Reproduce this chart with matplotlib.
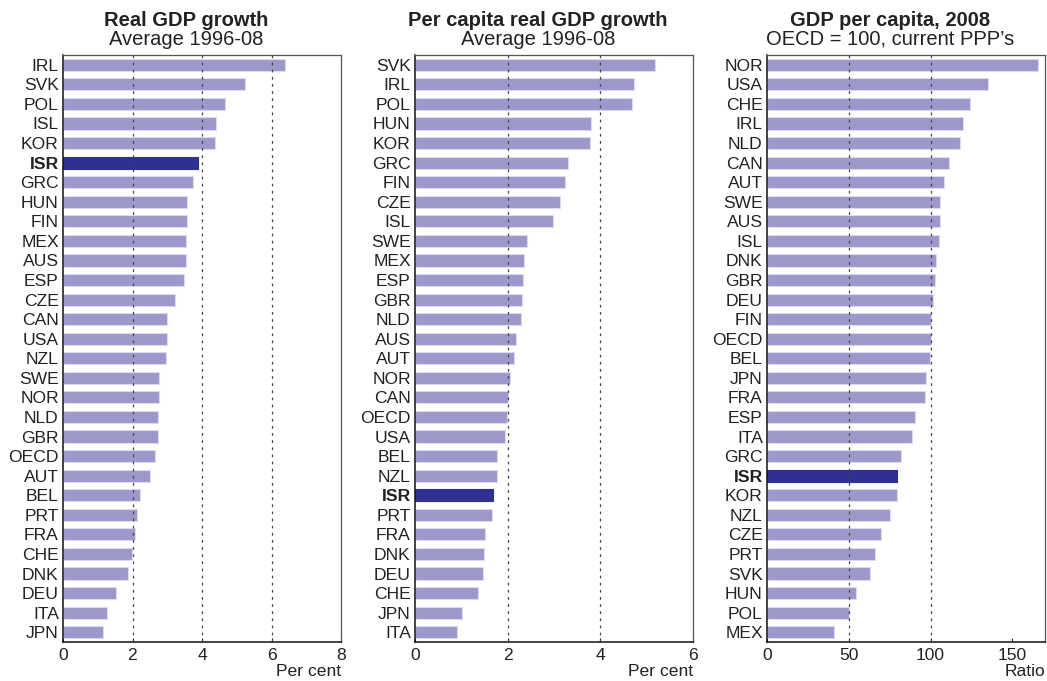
import numpy as np
import matplotlib
matplotlib.use("Agg")
import matplotlib.pyplot as plt

plt.rcParams['font.family'] = ['Liberation Sans', 'DejaVu Sans']

# Real GDP growth, average 1996-08 (per cent)
growth_countries = ["IRL", "SVK", "POL", "ISL", "KOR", "ISR", "GRC", "HUN", "FIN", "MEX",
                    "AUS", "ESP", "CZE", "CAN", "USA", "NZL", "SWE", "NOR", "NLD", "GBR",
                    "OECD", "AUT", "BEL", "PRT", "FRA", "CHE", "DNK", "DEU", "ITA", "JPN"]
growth_values = [6.40, 5.24, 4.65, 4.39, 4.37, 3.88, 3.74, 3.57, 3.57, 3.54,
                 3.54, 3.48, 3.21, 3.00, 2.98, 2.96, 2.76, 2.76, 2.74, 2.74,
                 2.66, 2.50, 2.21, 2.13, 2.08, 1.99, 1.86, 1.52, 1.26, 1.16]

# Per capita real GDP growth, average 1996-08 (per cent)
pc_countries = ["SVK", "IRL", "POL", "HUN", "KOR", "GRC", "FIN", "CZE", "ISL", "SWE",
                "MEX", "ESP", "GBR", "NLD", "AUS", "AUT", "NOR", "CAN", "OECD", "USA",
                "BEL", "NZL", "ISR", "PRT", "FRA", "DNK", "DEU", "CHE", "JPN", "ITA"]
pc_values = [5.17, 4.73, 4.69, 3.79, 3.78, 3.31, 3.24, 3.14, 2.98, 2.42,
             2.36, 2.33, 2.30, 2.28, 2.18, 2.14, 2.06, 2.00, 1.99, 1.94,
             1.78, 1.77, 1.69, 1.67, 1.51, 1.49, 1.46, 1.37, 1.02, 0.91]

# GDP per capita 2008, OECD = 100
level_countries = ["NOR", "USA", "CHE", "IRL", "NLD", "CAN", "AUT", "SWE", "AUS", "ISL",
                   "DNK", "GBR", "DEU", "FIN", "OECD", "BEL", "JPN", "FRA", "ESP", "ITA",
                   "GRC", "ISR", "KOR", "NZL", "CZE", "PRT", "SVK", "HUN", "POL", "MEX"]
level_values = [165.9, 135.3, 124.3, 120.1, 118.2, 111.1, 108.0, 106.0, 106.0, 105.0,
                103.5, 102.5, 101.3, 100.5, 100.0, 99.5, 97.0, 96.6, 90.3, 88.7,
                82.1, 79.7, 79.3, 75.4, 69.9, 66.0, 62.8, 54.6, 50.3, 41.0]

panels = [
    ("Real GDP growth", "Average 1996-08", growth_countries, growth_values, 8, [0, 2, 4, 6, 8], [2, 4, 6], "Per cent"),
    ("Per capita real GDP growth", "Average 1996-08", pc_countries, pc_values, 6, [0, 2, 4, 6], [2, 4], "Per cent"),
    ("GDP per capita, 2008", "OECD = 100, current PPP\u2019s", level_countries, level_values, 170, [0, 50, 100, 150], [50, 100], "Ratio"),
]

light = "#9d98ca"
dark = "#2e3192"

fig = plt.figure(figsize=(10.47, 6.81), dpi=100)
W, H = 1047.0, 681.0
lefts = [63, 415, 767]
for i in range(3):
    title, sub, names, vals, xmax, ticks, grid, xlab = panels[i]
    ax = fig.add_axes([lefts[i] / W, (H - 642) / H, 278 / W, 587 / H])
    y = np.arange(len(names))
    colors = [dark if n == "ISR" else light for n in names]
    edges = [dark if n == "ISR" else "#dcdaf0" for n in names]
    ax.barh(y, vals, height=0.62, color=colors, edgecolor=edges, linewidth=0.8, zorder=2)
    for g in grid:
        ax.axvline(g, color="#444444", linestyle=(0, (2.2, 3.5)), linewidth=0.9, zorder=3)
    ax.set_ylim(len(names) - 0.5, -0.5)
    ax.set_xlim(0, xmax)
    ax.set_xticks(ticks)
    ax.set_yticks(y)
    ax.set_yticklabels(names)
    for lab in ax.get_yticklabels():
        if lab.get_text() == "ISR":
            lab.set_fontweight("bold")
    ax.tick_params(axis="y", length=0, pad=3, labelsize=12.6, colors="#222222")
    ax.tick_params(axis="x", direction="in", length=3, width=0.8, pad=4, labelsize=12.6,
                   colors="#222222")
    for s in ["top", "right"]:
        ax.spines[s].set_color("#555555")
        ax.spines[s].set_linewidth(0.9)
    for s in ["left", "bottom"]:
        ax.spines[s].set_color("#111111")
        ax.spines[s].set_linewidth(1.1)
    ax.text(0.443, 1.0596, title, transform=ax.transAxes, ha="center", va="center",
            fontsize=14.5, fontweight="bold", color="#222222")
    ax.text(0.443, 1.027, sub, transform=ax.transAxes, ha="center", va="center",
            fontsize=14.5, color="#222222")
    ax.text(1.0, -0.051, xlab, transform=ax.transAxes, ha="right", va="center",
            fontsize=12.6, color="#222222")

fig.savefig("out.png", dpi=100)
